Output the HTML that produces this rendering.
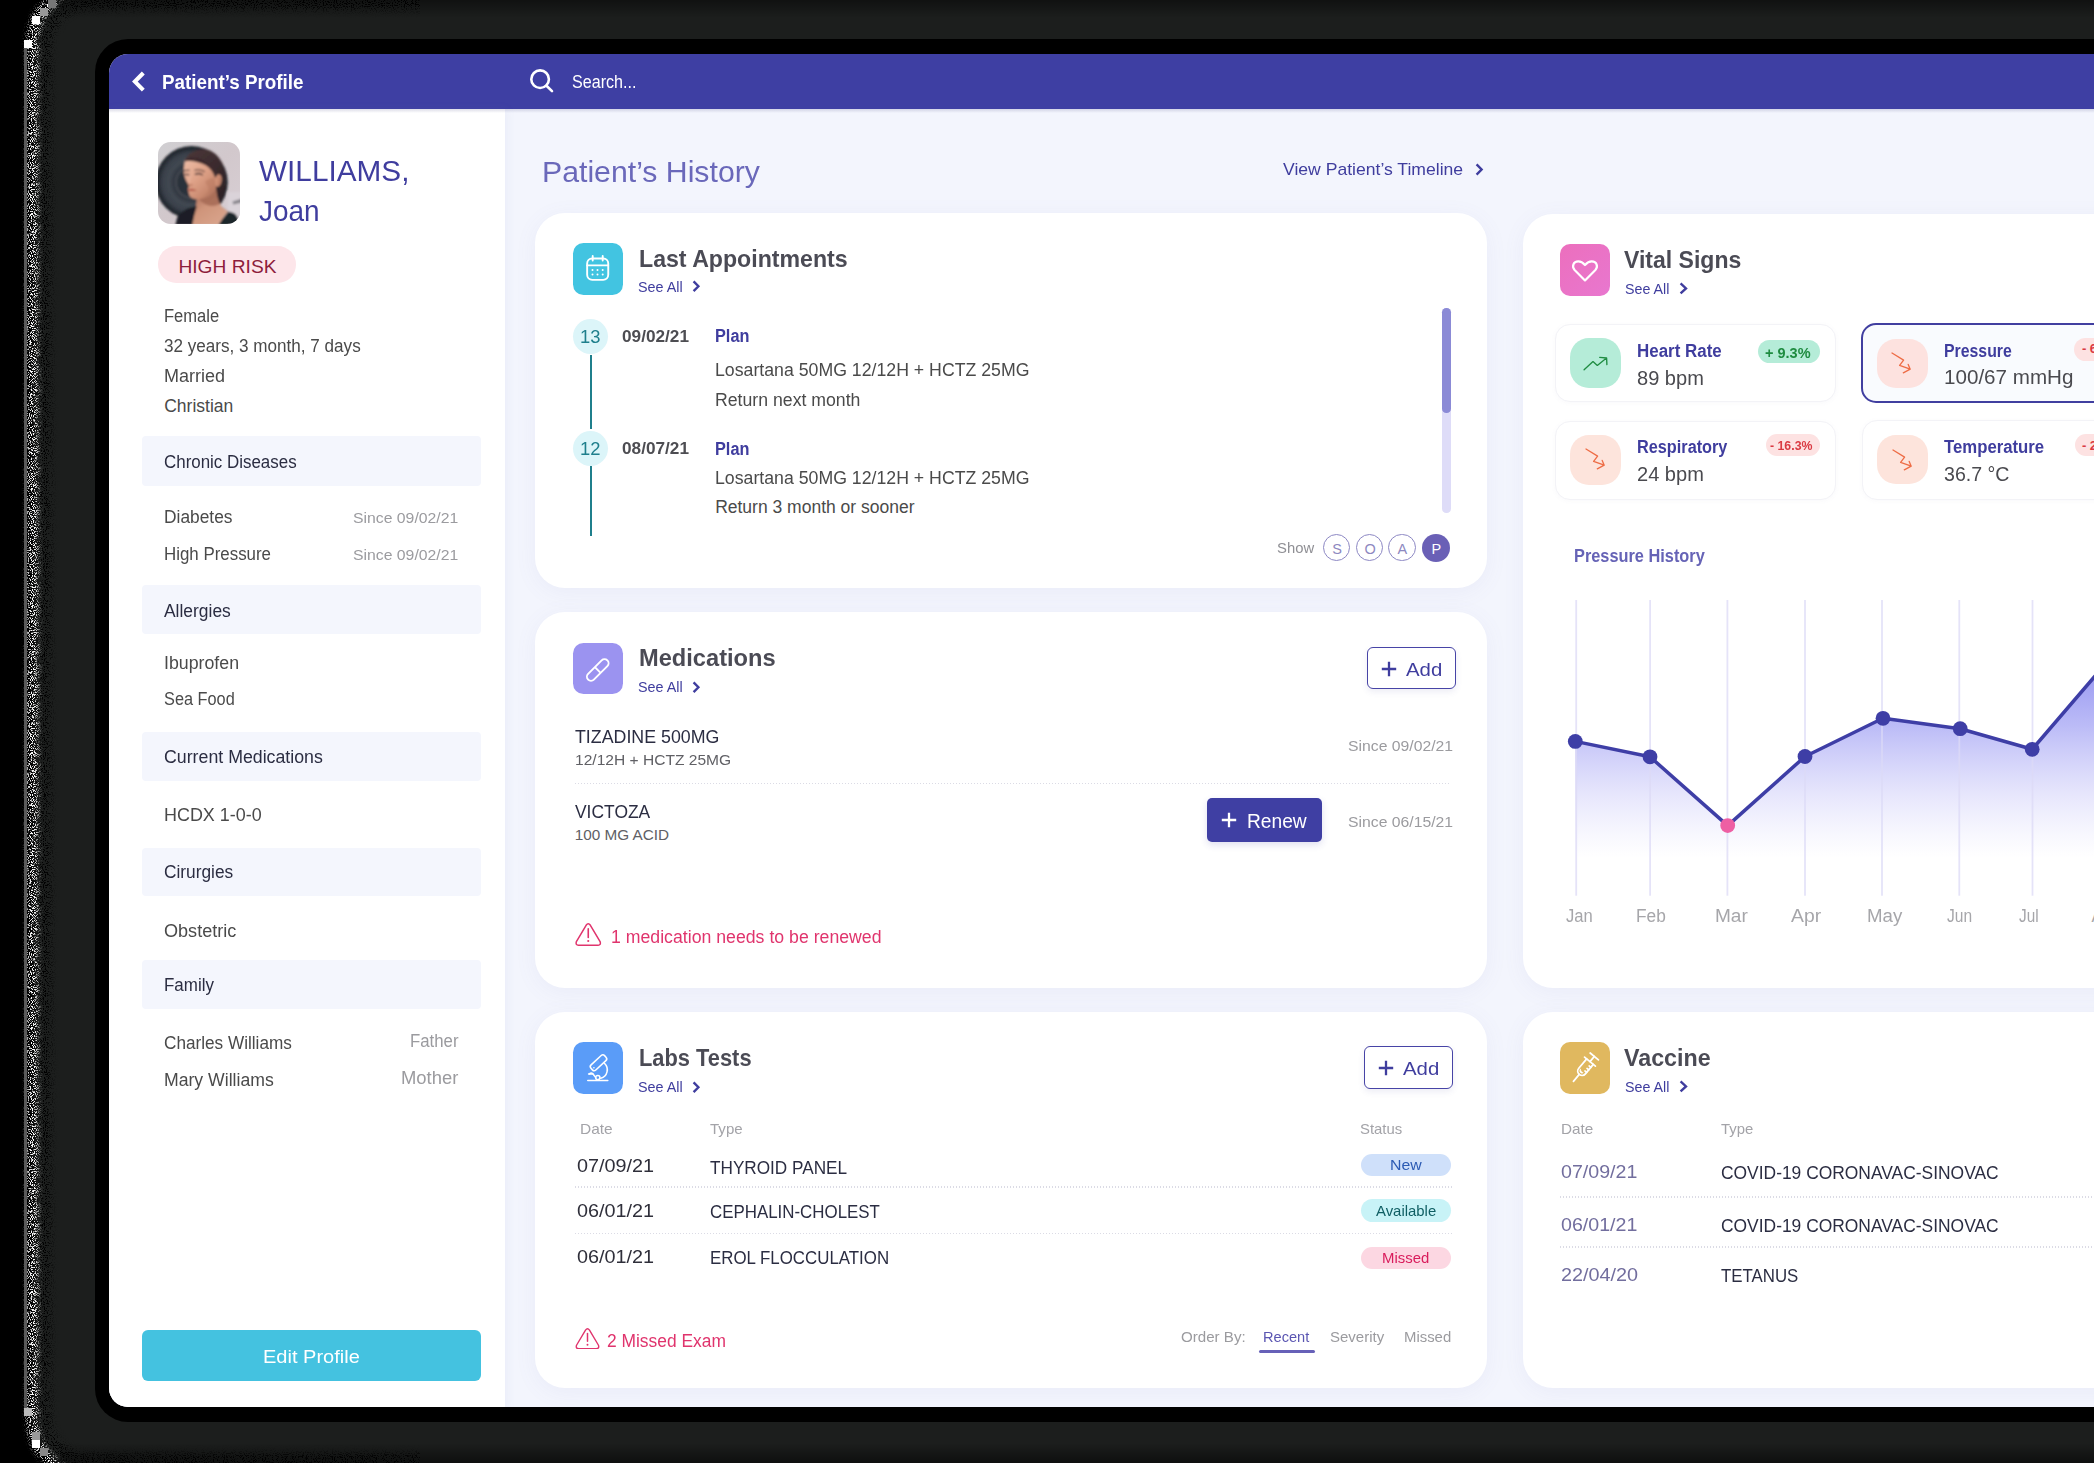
<!DOCTYPE html>
<html><head><meta charset="utf-8"><title>Patient Profile</title>
<style>
html,body{margin:0;padding:0;background:#000;}
body{width:2094px;height:1463px;overflow:hidden;position:relative;font-family:"Liberation Sans",sans-serif;}
.frame{position:absolute;left:34px;top:-8px;width:2300px;height:1479px;border-radius:52px;background:#1c1e1d;filter:blur(2.5px);}
.bezel{position:absolute;left:94.5px;top:39px;width:2200px;height:1383px;border-radius:33px;background:#000;}
.screen{position:absolute;left:109px;top:54px;width:2100px;height:1353px;border-radius:19px;background:#f3f5fd;overflow:hidden;}
.abs{position:absolute;left:-109px;top:-54px;width:2300px;height:1500px;}
.t{position:absolute;white-space:nowrap;line-height:1;transform-origin:0 0;}
.b{position:absolute;}
.card{position:absolute;background:#fff;border-radius:30px;box-shadow:0 4px 22px rgba(110,120,190,0.07);}
</style></head><body>
<div class="frame"></div>
<svg style="position:absolute;left:0;top:0" width="420" height="1463" viewBox="0 0 420 1463">
<defs>
<filter id="nz" x="0" y="0" width="420" height="1463" filterUnits="userSpaceOnUse" color-interpolation-filters="sRGB">
<feTurbulence type="fractalNoise" baseFrequency="0.95" numOctaves="2" seed="7" result="n"/>
<feColorMatrix in="n" type="matrix" values="0 0 0 0 1  0 0 0 0 1  0 0 0 0 1  9 0 0 0 -4.55" result="dots"/>
<feGaussianBlur in="SourceAlpha" stdDeviation="2.6" result="m"/>
<feComposite in="dots" in2="m" operator="in"/>
</filter>
<filter id="nz2" x="0" y="0" width="420" height="1463" filterUnits="userSpaceOnUse" color-interpolation-filters="sRGB">
<feTurbulence type="fractalNoise" baseFrequency="0.9" numOctaves="2" seed="23" result="n"/>
<feColorMatrix in="n" type="matrix" values="0 0 0 0 0  0 0 0 0 0  0 0 0 0 0  9 0 0 0 -4.7" result="dots"/>
<feGaussianBlur in="SourceAlpha" stdDeviation="3" result="m"/>
<feComposite in="dots" in2="m" operator="in"/>
</filter>
</defs>
<rect x="44" y="2" width="2300" height="1459" rx="44" fill="none" stroke="#000" stroke-width="15" filter="url(#nz2)"/>
<rect x="32.5" y="-13" width="2300" height="1489" rx="56" fill="none" stroke="#fff" stroke-width="12" filter="url(#nz)"/>
<g shape-rendering="crispEdges"><rect x="24" y="40" width="8" height="8" fill="#fff"/><rect x="32" y="16" width="8" height="8" fill="#fff"/><rect x="40" y="8" width="8" height="8" fill="#999"/><rect x="48" y="0" width="8" height="8" fill="#777"/><rect x="24" y="48" width="2.6" height="1344" fill="#5a5a5a"/>
<rect x="32" y="1440" width="8" height="8" fill="#fff"/><rect x="24" y="1408" width="8" height="8" fill="#bbb"/><rect x="40" y="1448" width="8" height="8" fill="#888"/><rect x="32" y="1432" width="8" height="8" fill="#999"/><rect x="24" y="1392" width="3" height="16" fill="#555"/></g>
</svg>
<div style="position:absolute;left:60px;top:0;width:2040px;height:18px;background:linear-gradient(rgba(0,0,0,0.42),rgba(0,0,0,0))"></div>
<div style="position:absolute;left:60px;top:1443px;width:2040px;height:20px;background:linear-gradient(rgba(0,0,0,0),rgba(0,0,0,0.5))"></div>
<div class="bezel"></div>
<div class="screen"><div class="abs">
<div class="b" style="left:109px;top:54px;width:2091.00px;height:55.00px;background:#3e3fa3;"></div>
<svg class="b" style="left:129px;top:69px" width="20" height="25" viewBox="0 0 20 25"><path d="M14.3 4 L5.9 12.6 L14.3 21.1" fill="none" stroke="#fff" stroke-width="4.1" stroke-linejoin="miter"/></svg>
<span class="t" style="left:162.40px;top:72.00px;font-size:20.6px;color:#fff;font-weight:700;transform:scaleX(0.9139);">Patient’s Profile</span>
<svg class="b" style="left:527px;top:66px" width="30" height="30" viewBox="0 0 30 30"><circle cx="13.1" cy="13.2" r="8.8" fill="none" stroke="#fff" stroke-width="2.6"/><path d="M19.5 19.7 L25 25.1" stroke="#fff" stroke-width="2.6" stroke-linecap="round"/></svg>
<span class="t" style="left:572.40px;top:74.00px;font-size:17.5px;color:#fff;transform:scaleX(0.9207);">Search...</span>
<div class="b" style="left:109px;top:109px;width:395.50px;height:1301.00px;background:#fff;box-shadow:2px 0 9px rgba(120,130,190,0.07);"></div>
<div class="b" style="left:109px;top:109px;width:2091.00px;height:4.00px;background:linear-gradient(rgba(40,40,110,0.16),rgba(40,40,110,0));"></div>
<svg class="b" style="left:157.9px;top:141.5px;border-radius:12.5px;overflow:hidden" width="82.5" height="82.5" viewBox="0 0 82.5 82.5">
<defs>
<filter id="avb" x="-10%" y="-10%" width="120%" height="120%"><feGaussianBlur stdDeviation="0.95"/></filter>
<radialGradient id="avdisc" cx="33.6" cy="40.3" r="36.2" gradientUnits="userSpaceOnUse"><stop offset="0" stop-color="#2a3038"/><stop offset="0.38" stop-color="#2c323b"/><stop offset="0.44" stop-color="#474d56"/><stop offset="0.47" stop-color="#30363f"/><stop offset="0.62" stop-color="#414852"/><stop offset="0.80" stop-color="#3a414b"/><stop offset="0.92" stop-color="#262b33"/><stop offset="1" stop-color="#1c2127"/></radialGradient>
<linearGradient id="avbg" x1="0" y1="0" x2="1" y2="1"><stop offset="0" stop-color="#d0cfd2"/><stop offset="0.5" stop-color="#d2c8cc"/><stop offset="1" stop-color="#d8cfd5"/></linearGradient>
<linearGradient id="avskin" x1="26" y1="20" x2="58" y2="52" gradientUnits="userSpaceOnUse"><stop offset="0" stop-color="#edbba4"/><stop offset="0.45" stop-color="#dfa288"/><stop offset="0.8" stop-color="#c98a70"/><stop offset="1" stop-color="#a96d57"/></linearGradient>
<linearGradient id="avneck" x1="40" y1="52" x2="62" y2="82" gradientUnits="userSpaceOnUse"><stop offset="0" stop-color="#b27560"/><stop offset="0.4" stop-color="#cf957b"/><stop offset="1" stop-color="#d9a48c"/></linearGradient>
<linearGradient id="avhair" x1="30" y1="10" x2="68" y2="55" gradientUnits="userSpaceOnUse"><stop offset="0" stop-color="#4a3638"/><stop offset="0.5" stop-color="#3a2a2d"/><stop offset="1" stop-color="#2c2226"/></linearGradient>
</defs>
<rect width="82.5" height="82.5" fill="url(#avbg)"/>
<g filter="url(#avb)">
<rect x="70" y="50" width="14" height="34" fill="#dad3d9"/>
<path d="M74.5 59.5 L84 56.5 L84 60.5 L75.2 62.6Z" fill="#88858c"/>
<circle cx="33.6" cy="40.3" r="36.2" fill="url(#avdisc)"/>
<!-- hair back -->
<path d="M28.4 15.6 C31 10.5 37 8 44 7.4 C52 6.8 58.5 11.5 63 19 C67 26 68.6 35 68 43 C67.4 50 65 57 61.9 62.3 L56.5 57 L55 44 L52 28 L40 17 Z" fill="url(#avhair)"/>
<!-- neck & chest -->
<path d="M38.8 52 L58 46 C58.6 54 60.5 60.5 63.5 64.3 C66 66.5 68.5 68 70.4 69.2 L66 75 L60.3 83 L34 83 L36 73.4 C37.6 68 38.6 62 38.8 52Z" fill="url(#avneck)"/>
<path d="M40 56 C46 57.5 53 54.5 58 47 C58.5 53 59.5 58 61.5 62 C55 66 46 64 40 56Z" fill="#a56955" opacity="0.85"/>
<!-- face -->
<path d="M27.1 16.9 C31.5 14.2 41.4 15.6 50.5 20.8 C55 24 58 29 59 35.1 C59.6 40 58.8 44.5 57 48 C54 52.5 48 56.5 41.4 57.2 C38 57.6 35 57 33.6 55.8 C32 54.6 31 53.5 31 52 C30.6 50.5 30.2 49.2 30 47.8 C29.6 46.6 30.6 45.6 31.3 44.6 C30.3 43.6 29.6 42.8 29.9 41.6 C28.6 39.6 27 37 27 35 C26 33 25.6 31.5 25.8 29.9 C26 25 26.3 20.5 27.1 16.9Z" fill="url(#avskin)"/>
<!-- hairline shadow over forehead -->
<path d="M27.3 16.4 C33 13.8 42 15 50.8 20.4 C55.5 23.6 58.6 28.8 59.4 35 L57 35.6 C55.4 30 52 25.6 47.6 23.2 C41 19.6 33 18 27 19.4Z" fill="#3d2c2f"/>
<!-- ear -->
<ellipse cx="60.2" cy="38.6" rx="3.3" ry="6.3" fill="#cf9076" transform="rotate(10 60.2 38.6)"/>
<path d="M60.8 35 C62 37 61.6 41 60 43" stroke="#a8664f" stroke-width="0.9" fill="none"/>
<!-- brows -->
<path d="M26.4 28.6 L31.2 28.2 M36.8 28.2 C40 27.4 43.6 28 46.4 29.6" stroke="#4a3430" stroke-width="1.1" stroke-linecap="round" fill="none"/>
<!-- eyes -->
<path d="M26.8 32.4 L30.8 32.6 M37.4 32.2 C39.6 31.2 42.6 31.6 44.4 32.8" stroke="#33242a" stroke-width="1.3" stroke-linecap="round" fill="none"/>
<!-- nose shadow -->
<path d="M30.6 42.4 C31.6 43.4 33 43.4 34.2 42.8" stroke="#b06c55" stroke-width="1.1" stroke-linecap="round" fill="none"/>
<path d="M32.5 33 C31.5 36 31 39 30.6 41" stroke="#e9b7a0" stroke-width="1.4" stroke-linecap="round" fill="none" opacity="0.8"/>
<!-- lips -->
<path d="M30 47.2 C32.4 46.2 35.6 46.6 38.8 48.2 C36 49.4 32.4 49.2 30.2 48.4Z" fill="#b35a4c"/>
<!-- cheek shade -->
<path d="M47 40 C50 44 52 48 50 52 C53 50 56 47 57 44 C57.6 41 57 38 56 36 C53 36 49 37 47 40Z" fill="#b97a62" opacity="0.55"/>
<!-- clothes -->
<path d="M17.4 83 L19.4 74.7 C22 71.6 25 69 28.4 66.9 C32 65.6 35.6 64.8 38.8 64.3 L36.2 73.4 L34.3 83Z" fill="#1b1f25"/>
<path d="M60.3 83 L65.5 75.3 L70 69.5 C72.4 69.8 74.6 70.4 76.5 71.4 C78.4 73 79.6 75 80.4 77.3 L81.2 83Z" fill="#1f262c"/>
<path d="M63.5 64.5 L70.2 69.4 L65 76" stroke="#b9b3b8" stroke-width="0.7" fill="none" opacity="0.8"/>
</g>
</svg>

<span class="t" style="left:259.40px;top:157.00px;font-size:28.6px;color:#3f3d9e;transform:scaleX(1.0403);">WILLIAMS,</span>
<span class="t" style="left:259.40px;top:197.00px;font-size:28.6px;color:#3f3d9e;transform:scaleX(0.9779);">Joan</span>
<div class="b" style="left:158px;top:246px;width:138.00px;height:36.50px;background:#fde6ea;border-radius:18.25px;"></div>
<span class="t" style="left:178.40px;top:257.00px;font-size:19.2px;color:#8e1d3c;">HIGH RISK</span>
<span class="t" style="left:164.20px;top:308.00px;font-size:17.5px;color:#4a4a4a;transform:scaleX(0.9456);">Female</span>
<span class="t" style="left:164.20px;top:338.00px;font-size:17.5px;color:#4a4a4a;transform:scaleX(0.9768);">32 years, 3 month, 7 days</span>
<span class="t" style="left:164.20px;top:368.00px;font-size:17.5px;color:#4a4a4a;transform:scaleX(1.0291);">Married</span>
<span class="t" style="left:164.20px;top:398.00px;font-size:17.5px;color:#4a4a4a;">Christian</span>
<div class="b" style="left:142px;top:436px;width:339.00px;height:49.70px;background:#f4f6fd;border-radius:4px;"></div>
<span class="t" style="left:164.20px;top:454.00px;font-size:17.5px;color:#2b2d42;transform:scaleX(0.9670);">Chronic Diseases</span>
<span class="t" style="left:164.20px;top:509.00px;font-size:17.5px;color:#4a4a4a;transform:scaleX(0.9910);">Diabetes</span>
<span class="t" style="left:353.20px;top:510.00px;font-size:15px;color:#9b9b9f;transform:scaleX(1.0517);">Since 09/02/21</span>
<span class="t" style="left:164.20px;top:546.00px;font-size:17.5px;color:#4a4a4a;transform:scaleX(0.9651);">High Pressure</span>
<span class="t" style="left:353.20px;top:547.00px;font-size:15px;color:#9b9b9f;transform:scaleX(1.0517);">Since 09/02/21</span>
<div class="b" style="left:142px;top:585.3px;width:339.00px;height:48.60px;background:#f4f6fd;border-radius:4px;"></div>
<span class="t" style="left:164.20px;top:603.00px;font-size:17.5px;color:#2b2d42;transform:scaleX(0.9952);">Allergies</span>
<span class="t" style="left:164.20px;top:655.00px;font-size:17.5px;color:#4a4a4a;transform:scaleX(1.0149);">Ibuprofen</span>
<span class="t" style="left:164.20px;top:691.00px;font-size:17.5px;color:#4a4a4a;transform:scaleX(0.9318);">Sea Food</span>
<div class="b" style="left:142px;top:732.3px;width:339.00px;height:48.80px;background:#f4f6fd;border-radius:4px;"></div>
<span class="t" style="left:164.20px;top:749.00px;font-size:17.5px;color:#2b2d42;transform:scaleX(1.0145);">Current Medications</span>
<span class="t" style="left:164.20px;top:807.00px;font-size:17.5px;color:#4a4a4a;transform:scaleX(1.0247);">HCDX 1-0-0</span>
<div class="b" style="left:142px;top:847.5px;width:339.00px;height:48.80px;background:#f4f6fd;border-radius:4px;"></div>
<span class="t" style="left:164.20px;top:864.00px;font-size:17.5px;color:#2b2d42;transform:scaleX(0.9886);">Cirurgies</span>
<span class="t" style="left:164.20px;top:923.00px;font-size:17.5px;color:#4a4a4a;transform:scaleX(1.0329);">Obstetric</span>
<div class="b" style="left:142px;top:960.2px;width:339.00px;height:49.20px;background:#f4f6fd;border-radius:4px;"></div>
<span class="t" style="left:164.20px;top:977.00px;font-size:17.5px;color:#2b2d42;transform:scaleX(0.9689);">Family</span>
<span class="t" style="left:164.20px;top:1035.00px;font-size:17.5px;color:#4a4a4a;transform:scaleX(0.9812);">Charles Williams</span>
<span class="t" style="left:410.10px;top:1033.00px;font-size:17.5px;color:#9b9b9f;transform:scaleX(0.9600);">Father</span>
<span class="t" style="left:164.20px;top:1072.00px;font-size:17.5px;color:#4a4a4a;transform:scaleX(1.0076);">Mary Williams</span>
<span class="t" style="left:401.30px;top:1070.00px;font-size:17.5px;color:#9b9b9f;transform:scaleX(1.0532);">Mother</span>
<div class="b" style="left:141.5px;top:1330px;width:339.00px;height:50.50px;background:#44c2e0;border-radius:6px;"></div>
<span class="t" style="left:263.40px;top:1347.00px;font-size:19.2px;color:#fff;transform:scaleX(1.0438);">Edit Profile</span>
<span class="t" style="left:541.90px;top:157.00px;font-size:29.7px;color:#6a68ba;transform:scaleX(1.0184);">Patient’s History</span>
<span class="t" style="left:1283.40px;top:161.00px;font-size:17px;color:#3f3d9e;transform:scaleX(1.0341);">View Patient’s Timeline</span>
<svg class="b" style="left:1473.5px;top:161.8px" width="10.4" height="15" viewBox="-2 -2 10.4 15"><path d="M0.6 0.4 L5.6000000000000005 5.5 L0.6 10.6" fill="none" stroke="#3f3d9e" stroke-width="2.4"/></svg>
<div class="card" style="left:535px;top:212.5px;width:952px;height:375.5px"></div>
<div class="b" style="left:572.9px;top:243px;width:50px;height:51.5px;border-radius:10.5px;background:#42c4e1"></div>
<svg class="b" style="left:572.9px;top:243px" width="50" height="52" viewBox="0 0 50 52"><g fill="none" stroke="#fff" stroke-width="1.9" stroke-linecap="round"><rect x="14.15" y="15.55" width="21.1" height="21.3" rx="5"/><path d="M14.2 22.4H35.2M19.7 12.9V17.6M29.7 12.9V17.6"/></g><g fill="#fff"><circle cx="19.5" cy="27" r="1"/><circle cx="24.5" cy="27" r="1"/><circle cx="29.7" cy="27" r="1"/><circle cx="19.5" cy="31.5" r="1"/><circle cx="24.5" cy="31.5" r="1"/><circle cx="29.7" cy="31.5" r="1"/></g></svg>
<span class="t" style="left:638.90px;top:247.00px;font-size:24.5px;color:#4b4b55;font-weight:700;transform:scaleX(0.9443);">Last Appointments</span>
<span class="t" style="left:637.80px;top:279.00px;font-size:15.5px;color:#3f3d9e;transform:scaleX(0.9264);">See All</span>
<svg class="b" style="left:690.9px;top:279.0px" width="10.2" height="14.5" viewBox="-2 -2 10.2 14.5"><path d="M0.6 0.4 L5.4 5.25 L0.6 10.1" fill="none" stroke="#3f3d9e" stroke-width="2.4"/></svg>
<div class="b" style="left:589.5px;top:354.5px;width:2.00px;height:74.50px;background:#1f7f8c;"></div>
<div class="b" style="left:589.5px;top:466px;width:2.00px;height:70.00px;background:#1f7f8c;"></div>
<div class="b" style="left:573px;top:319.25px;width:35px;height:35px;border-radius:50%;background:#dcf5f9"></div>
<div class="b" style="left:573px;top:430.75px;width:35px;height:35px;border-radius:50%;background:#dcf5f9"></div>
<span class="t" style="left:580.15px;top:328.00px;font-size:18px;color:#1f7f8c;transform:scaleX(1.0225);">13</span>
<span class="t" style="left:580.15px;top:440.00px;font-size:18px;color:#1f7f8c;transform:scaleX(1.0225);">12</span>
<span class="t" style="left:621.90px;top:329.00px;font-size:15.7px;color:#4d4d52;font-weight:700;transform:scaleX(1.0965);">09/02/21</span>
<span class="t" style="left:621.90px;top:441.00px;font-size:15.7px;color:#4d4d52;font-weight:700;transform:scaleX(1.0965);">08/07/21</span>
<span class="t" style="left:715.15px;top:328.00px;font-size:17.5px;color:#3f3d9e;font-weight:700;transform:scaleX(0.9311);">Plan</span>
<span class="t" style="left:715.15px;top:441.00px;font-size:17.5px;color:#3f3d9e;font-weight:700;transform:scaleX(0.9311);">Plan</span>
<span class="t" style="left:715.15px;top:362.00px;font-size:17.5px;color:#4a4a4a;transform:scaleX(1.0119);">Losartana 50MG 12/12H + HCTZ 25MG</span>
<span class="t" style="left:715.15px;top:392.00px;font-size:17.5px;color:#4a4a4a;transform:scaleX(1.0101);">Return next month</span>
<span class="t" style="left:715.15px;top:470.00px;font-size:17.5px;color:#4a4a4a;transform:scaleX(1.0119);">Losartana 50MG 12/12H + HCTZ 25MG</span>
<span class="t" style="left:715.15px;top:499.00px;font-size:17.5px;color:#4a4a4a;">Return 3 month or sooner</span>
<div class="b" style="left:1442px;top:308px;width:8.70px;height:205.00px;background:#dedcf8;border-radius:4.3px;"></div>
<div class="b" style="left:1442px;top:308px;width:8.70px;height:104.70px;background:#8b8ad6;border-radius:4.3px;"></div>
<span class="t" style="left:1277.40px;top:540.00px;font-size:15px;color:#8f8f94;transform:scaleX(0.9887);">Show</span>
<div class="b" style="left:1323px;top:534px;width:25.4px;height:25.4px;border-radius:50%;border:1.4px solid #8d88c4"></div>
<span class="t" style="left:1332.19px;top:542.00px;font-size:14.5px;color:#8d88bf;">S</span>
<div class="b" style="left:1356px;top:534px;width:25.4px;height:25.4px;border-radius:50%;border:1.4px solid #8d88c4"></div>
<span class="t" style="left:1364.38px;top:542.00px;font-size:14.5px;color:#8d88bf;">O</span>
<div class="b" style="left:1388.3px;top:534px;width:25.4px;height:25.4px;border-radius:50%;border:1.4px solid #8d88c4"></div>
<span class="t" style="left:1397.42px;top:542.00px;font-size:14.5px;color:#8d88bf;">A</span>
<div class="b" style="left:1422.3px;top:534px;width:28px;height:28px;border-radius:50%;background:#6a60b6"></div>
<span class="t" style="left:1431.49px;top:542.00px;font-size:14.5px;color:#fff;">P</span>
<div class="card" style="left:535px;top:612.3px;width:952px;height:375.30000000000007px"></div>
<div class="b" style="left:572.9px;top:642.9px;width:50px;height:51px;border-radius:10.5px;background:#9b93f0"></div>
<svg class="b" style="left:572.9px;top:642.9px" width="50" height="52" viewBox="0 0 50 52"><g transform="rotate(-45 24.75 27)" fill="none" stroke="#fff" stroke-width="1.9"><rect x="11.15" y="22.95" width="27.2" height="8.1" rx="4.05"/><path d="M24.75 22.95V31.05"/></g></svg>
<span class="t" style="left:639.10px;top:646.00px;font-size:24.5px;color:#4b4b55;font-weight:700;transform:scaleX(0.9652);">Medications</span>
<span class="t" style="left:637.80px;top:679.00px;font-size:15.5px;color:#3f3d9e;transform:scaleX(0.9264);">See All</span>
<svg class="b" style="left:690.9px;top:679.6999999999999px" width="10.2" height="14.5" viewBox="-2 -2 10.2 14.5"><path d="M0.6 0.4 L5.4 5.25 L0.6 10.1" fill="none" stroke="#3f3d9e" stroke-width="2.4"/></svg>
<div class="b" style="left:1367px;top:646.5px;width:87.3999999999999px;height:40.899999999999956px;border:1.75px solid #4744a6;border-radius:6px;background:#fff;box-shadow:0 3px 6px rgba(80,80,160,0.10)"></div>
<svg class="b" style="left:1381.2px;top:660.6999999999999px" width="16" height="16" viewBox="0 0 16 16"><path d="M8 0.8V15.2M0.8 8H15.2" stroke="#3f3d9e" stroke-width="2.3"/></svg>
<span class="t" style="left:1406.40px;top:660.00px;font-size:19px;color:#3f3d9e;transform:scaleX(1.0726);">Add</span>
<span class="t" style="left:574.80px;top:729.00px;font-size:17.5px;color:#2b2d42;transform:scaleX(1.0169);">TIZADINE 500MG</span>
<span class="t" style="left:574.80px;top:752.00px;font-size:15.3px;color:#606065;transform:scaleX(1.0176);">12/12H + HCTZ 25MG</span>
<span class="t" style="left:1347.70px;top:738.00px;font-size:15px;color:#9b9b9f;transform:scaleX(1.0497);">Since 09/02/21</span>
<div class="b" style="left:575px;top:782.55px;width:875px;height:1.7px;background:repeating-linear-gradient(90deg,#dbdbe5 0,#dbdbe5 1.5px,transparent 1.5px,transparent 3px)"></div>
<span class="t" style="left:574.80px;top:804.00px;font-size:17.5px;color:#2b2d42;transform:scaleX(0.9957);">VICTOZA</span>
<span class="t" style="left:574.80px;top:827.00px;font-size:15.3px;color:#606065;">100 MG ACID</span>
<div class="b" style="left:1206.6px;top:798px;width:115.9px;height:43.7px;border-radius:5px;background:#3f3fa3;box-shadow:0 3px 7px rgba(63,63,163,0.16)"></div>
<svg class="b" style="left:1220.8px;top:812.3px" width="16" height="16" viewBox="0 0 16 16"><path d="M8 0.8V15.2M0.8 8H15.2" stroke="#fff" stroke-width="2.3"/></svg>
<span class="t" style="left:1246.60px;top:812.00px;font-size:19.5px;color:#fff;transform:scaleX(0.9840);">Renew</span>
<span class="t" style="left:1347.70px;top:814.00px;font-size:15px;color:#9b9b9f;transform:scaleX(1.0497);">Since 06/15/21</span>
<svg class="b" style="left:575px;top:922.6px" width="26.5" height="23.2" viewBox="0 0 26.5 23.2"><path d="M11.1 2.3 Q13.25 -0.6 15.4 2.3 L25.1 18.6 Q26.3 22.2 22.6 22.3 L3.9 22.3 Q0.2 22.2 1.4 18.6 Z" fill="none" stroke="#e0346d" stroke-width="1.5" stroke-linejoin="round"/><path d="M13.25 5.9 V14.4" stroke="#e0346d" stroke-width="1.6" stroke-linecap="round"/><circle cx="13.25" cy="18" r="1.05" fill="#e0346d"/></svg>
<span class="t" style="left:611.40px;top:929.00px;font-size:17.5px;color:#e0346d;transform:scaleX(1.0112);">1 medication needs to be renewed</span>
<div class="card" style="left:535px;top:1011.8px;width:952px;height:376.20000000000005px"></div>
<div class="b" style="left:572.9px;top:1042.2px;width:50px;height:51.7px;border-radius:10.5px;background:#5a9cf8"></div>
<svg class="b" style="left:572.9px;top:1042.2px" width="50" height="52" viewBox="0 0 50 52"><g fill="none" stroke="#fff" stroke-width="1.55" stroke-linecap="round" stroke-linejoin="round"><rect x="16.2" y="17.3" width="18.6" height="6.9" rx="2.4" transform="rotate(-43 25.5 20.75)"/><path d="M31.4 21.2 C36.5 26 34.5 34.5 27.8 36.2"/><path d="M15.6 32 L20 32 L22.6 35.4"/><path d="M16.4 32 C17.6 30.6 19.4 30.8 20 32" /><circle cx="24.8" cy="35.6" r="2.1"/><path d="M14.8 38.4 H34.8"/></g><circle cx="20.9" cy="25.7" r="0.8" fill="#fff"/></svg>
<span class="t" style="left:638.90px;top:1046.00px;font-size:24.5px;color:#4b4b55;font-weight:700;transform:scaleX(0.8920);">Labs Tests</span>
<span class="t" style="left:637.80px;top:1079.00px;font-size:15.5px;color:#3f3d9e;transform:scaleX(0.9264);">See All</span>
<svg class="b" style="left:690.9px;top:1079.7px" width="10.2" height="14.5" viewBox="-2 -2 10.2 14.5"><path d="M0.6 0.4 L5.4 5.25 L0.6 10.1" fill="none" stroke="#3f3d9e" stroke-width="2.4"/></svg>
<div class="b" style="left:1363.8px;top:1046px;width:87.3px;height:40.6px;border:1.75px solid #4744a6;border-radius:6px;background:#fff;box-shadow:0 3px 6px rgba(80,80,160,0.10)"></div>
<svg class="b" style="left:1378.0px;top:1060.05px" width="16" height="16" viewBox="0 0 16 16"><path d="M8 0.8V15.2M0.8 8H15.2" stroke="#3f3d9e" stroke-width="2.3"/></svg>
<span class="t" style="left:1403.20px;top:1059.00px;font-size:19px;color:#3f3d9e;transform:scaleX(1.0726);">Add</span>
<span class="t" style="left:579.80px;top:1121.00px;font-size:15px;color:#a3a3a8;transform:scaleX(1.0308);">Date</span>
<span class="t" style="left:710.20px;top:1121.00px;font-size:15px;color:#a3a3a8;transform:scaleX(1.0031);">Type</span>
<span class="t" style="left:1359.90px;top:1121.00px;font-size:15px;color:#a3a3a8;transform:scaleX(0.9929);">Status</span>
<span class="t" style="left:577.00px;top:1157.00px;font-size:18px;color:#2f2f3a;transform:scaleX(1.1009);">07/09/21</span>
<span class="t" style="left:710.20px;top:1160.00px;font-size:17.5px;color:#2b2d42;transform:scaleX(0.9810);">THYROID PANEL</span>
<div class="b" style="left:575px;top:1186.15px;width:877px;height:1.7px;background:repeating-linear-gradient(90deg,#dbdbe5 0,#dbdbe5 1.5px,transparent 1.5px,transparent 3px)"></div>
<span class="t" style="left:577.00px;top:1202.00px;font-size:18px;color:#2f2f3a;transform:scaleX(1.1009);">06/01/21</span>
<span class="t" style="left:710.20px;top:1204.00px;font-size:17.5px;color:#2b2d42;transform:scaleX(0.9653);">CEPHALIN-CHOLEST</span>
<div class="b" style="left:575px;top:1232.65px;width:877px;height:1.7px;background:repeating-linear-gradient(90deg,#dbdbe5 0,#dbdbe5 1.5px,transparent 1.5px,transparent 3px)"></div>
<span class="t" style="left:577.00px;top:1248.00px;font-size:18px;color:#2f2f3a;transform:scaleX(1.1009);">06/01/21</span>
<span class="t" style="left:710.20px;top:1250.00px;font-size:17.5px;color:#2b2d42;transform:scaleX(0.9642);">EROL FLOCCULATION</span>
<div class="b" style="left:1360.5px;top:1154px;width:90.20px;height:22.00px;background:#cfe0fa;border-radius:11.0px;"></div>
<span class="t" style="left:1389.75px;top:1157.00px;font-size:15px;color:#2c5bb4;transform:scaleX(1.0567);">New</span>
<div class="b" style="left:1360.5px;top:1199px;width:90.20px;height:23.40px;background:#c8f3f7;border-radius:11.700000000000045px;"></div>
<span class="t" style="left:1375.50px;top:1203.00px;font-size:15px;color:#0f5e63;transform:scaleX(0.9930);">Available</span>
<div class="b" style="left:1360.5px;top:1246.5px;width:90.20px;height:22.50px;background:#fcd7e2;border-radius:11.25px;"></div>
<span class="t" style="left:1382.00px;top:1250.00px;font-size:15px;color:#d91c5c;transform:scaleX(0.9937);">Missed</span>
<svg class="b" style="left:574.8px;top:1327.9px" width="25" height="21.5" viewBox="0 0 26.5 23.2"><path d="M11.1 2.3 Q13.25 -0.6 15.4 2.3 L25.1 18.6 Q26.3 22.2 22.6 22.3 L3.9 22.3 Q0.2 22.2 1.4 18.6 Z" fill="none" stroke="#e0346d" stroke-width="1.5" stroke-linejoin="round"/><path d="M13.25 5.9 V14.4" stroke="#e0346d" stroke-width="1.6" stroke-linecap="round"/><circle cx="13.25" cy="18" r="1.05" fill="#e0346d"/></svg>
<span class="t" style="left:607.00px;top:1333.00px;font-size:17.5px;color:#e0346d;transform:scaleX(0.9939);">2 Missed Exam</span>
<span class="t" style="left:1180.80px;top:1329.00px;font-size:15.5px;color:#9b9b9f;transform:scaleX(0.9748);">Order By:</span>
<span class="t" style="left:1262.90px;top:1329.00px;font-size:15.5px;color:#5b56b2;transform:scaleX(0.9425);">Recent</span>
<span class="t" style="left:1330.40px;top:1329.00px;font-size:15.5px;color:#9b9b9f;transform:scaleX(0.9679);">Severity</span>
<span class="t" style="left:1404.40px;top:1329.00px;font-size:15.5px;color:#9b9b9f;transform:scaleX(0.9608);">Missed</span>
<div class="b" style="left:1259.3px;top:1349.5px;width:56.10px;height:3.20px;background:#6761b8;border-radius:1.6px;"></div>
<div class="card" style="left:1522.5px;top:214px;width:677.5px;height:774px"></div>
<div class="b" style="left:1560px;top:244.2px;width:49.8px;height:51.7px;border-radius:10px;background:linear-gradient(135deg,#ec6fbd,#e877cf)"></div>
<svg class="b" style="left:1570px;top:257px" width="30" height="28" viewBox="0 0 30 28"><path d="M15 23.4 L4.6 12.9 C1.6 9.6 3.2 4.4 8.3 4.4 C11.6 4.4 13.6 6.4 15 8 C16.4 6.4 18.4 4.4 21.7 4.4 C26.8 4.4 28.4 9.6 25.4 12.9 Z" fill="none" stroke="#fff" stroke-width="2.2" stroke-linejoin="round"/></svg>
<span class="t" style="left:1624.40px;top:248.00px;font-size:24.5px;color:#4b4b55;font-weight:700;transform:scaleX(0.9395);">Vital Signs</span>
<span class="t" style="left:1625.00px;top:281.00px;font-size:15.5px;color:#3f3d9e;transform:scaleX(0.9202);">See All</span>
<svg class="b" style="left:1678px;top:281px" width="10.8" height="14.9" viewBox="-2 -2 10.8 14.9"><path d="M0.6 0.4 L6.0 5.45 L0.6 10.5" fill="none" stroke="#3f3d9e" stroke-width="2.4"/></svg>
<div class="b" style="left:1555.4px;top:324.3px;width:279.0999999999999px;height:76.09999999999997px;border:1px solid #f3f3f7;border-radius:15px;background:#fff;box-shadow:0 1px 5px rgba(120,120,170,0.045)"></div>
<div class="b" style="left:1570px;top:338.2px;width:51px;height:49.6px;border-radius:19px;background:#b5ecd8"></div>
<svg class="b" style="left:1583px;top:355px" width="30" height="20" viewBox="0 0 30 20"><path d="M1.1 14.7 L10 6.6 L14.3 10.4 L23.2 3.2 M16.7 2.4 L23.6 3 L23.9 9.6" fill="none" stroke="#1f8c41" stroke-width="1.35" stroke-linecap="round" stroke-linejoin="round"/></svg>
<span class="t" style="left:1637.10px;top:343.00px;font-size:17.5px;color:#3f3d9e;font-weight:700;transform:scaleX(0.9680);">Heart Rate</span>
<span class="t" style="left:1637.10px;top:369.00px;font-size:19.5px;color:#4a4a4f;transform:scaleX(1.0277);">89 bpm</span>
<div class="b" style="left:1758px;top:340px;width:62.00px;height:23.40px;background:#b5ecd8;border-radius:11.7px;"></div>
<span class="t" style="left:1765.30px;top:346.00px;font-size:14px;color:#1f8c41;font-weight:700;transform:scaleX(1.0364);">+ 9.3%</span>
<div class="b" style="left:1861.3px;top:323.3px;width:334.70000000000005px;height:75.69999999999999px;border:2px solid #413fa0;border-radius:15px;background:#f9fbfe"></div>
<div class="b" style="left:1877px;top:338.7px;width:50.7px;height:49.3px;border-radius:19px;background:#fde2df"></div>
<svg class="b" style="left:1890.4px;top:351.2px" width="26" height="26" viewBox="-2 -2 26 26"><path d="M0 0 L11.6 7.1 L7.6 12.4 L18.2 16.2 M11.3 19.8 L18.2 16.2 L16.2 11.4" fill="none" stroke="#ee6c45" stroke-width="1.3" stroke-linecap="round" stroke-linejoin="round"/></svg>
<span class="t" style="left:1943.60px;top:343.00px;font-size:17.5px;color:#3f3d9e;font-weight:700;transform:scaleX(0.9055);">Pressure</span>
<span class="t" style="left:1944.30px;top:368.00px;font-size:19.5px;color:#4a4a4f;transform:scaleX(1.0571);">100/67 mmHg</span>
<div class="b" style="left:2074.1px;top:337.7px;width:65.90px;height:22.90px;background:#fde2e2;border-radius:11.4px;"></div>
<span class="t" style="left:2081.90px;top:342.00px;font-size:13px;color:#da3a42;font-weight:700;">- 6.1%</span>
<div class="b" style="left:1555.4px;top:421px;width:279.0999999999999px;height:76.5px;border:1px solid #f3f3f7;border-radius:15px;background:#fff;box-shadow:0 1px 5px rgba(120,120,170,0.045)"></div>
<div class="b" style="left:1570px;top:435.3px;width:51px;height:49.6px;border-radius:19px;background:#fde4dc"></div>
<svg class="b" style="left:1584.1px;top:447.4px" width="26" height="26" viewBox="-2 -2 26 26"><path d="M0 0 L11.6 7.1 L7.6 12.4 L18.2 16.2 M11.3 19.8 L18.2 16.2 L16.2 11.4" fill="none" stroke="#ee6c45" stroke-width="1.3" stroke-linecap="round" stroke-linejoin="round"/></svg>
<span class="t" style="left:1637.10px;top:439.00px;font-size:17.5px;color:#3f3d9e;font-weight:700;transform:scaleX(0.9296);">Respiratory</span>
<span class="t" style="left:1637.10px;top:465.00px;font-size:19.5px;color:#4a4a4f;transform:scaleX(1.0277);">24 bpm</span>
<div class="b" style="left:1765.6px;top:434.2px;width:54.70px;height:22.30px;background:#fde2e2;border-radius:11.2px;"></div>
<span class="t" style="left:1770.40px;top:439.00px;font-size:13px;color:#da3a42;font-weight:700;transform:scaleX(0.9475);">- 16.3%</span>
<div class="b" style="left:1862.3px;top:420.3px;width:335.70000000000005px;height:77.30000000000001px;border:1px solid #f3f3f7;border-radius:15px;background:#fff;box-shadow:0 1px 5px rgba(120,120,170,0.045)"></div>
<div class="b" style="left:1877px;top:435.3px;width:50.7px;height:49.2px;border-radius:19px;background:#fde4dc"></div>
<svg class="b" style="left:1890.7px;top:447.6px" width="26" height="26" viewBox="-2 -2 26 26"><path d="M0 0 L11.6 7.1 L7.6 12.4 L18.2 16.2 M11.3 19.8 L18.2 16.2 L16.2 11.4" fill="none" stroke="#ee6c45" stroke-width="1.3" stroke-linecap="round" stroke-linejoin="round"/></svg>
<span class="t" style="left:1943.60px;top:439.00px;font-size:17.5px;color:#3f3d9e;font-weight:700;transform:scaleX(0.9566);">Temperature</span>
<span class="t" style="left:1944.30px;top:465.00px;font-size:19.5px;color:#4a4a4f;transform:scaleX(1.0038);">36.7 °C</span>
<div class="b" style="left:2075px;top:434px;width:65.00px;height:22.00px;background:#fde2e2;border-radius:11px;"></div>
<span class="t" style="left:2081.90px;top:439.00px;font-size:13px;color:#da3a42;font-weight:700;">- 2.4%</span>
<span class="t" style="left:1574.40px;top:548.00px;font-size:17.5px;color:#6663b6;font-weight:700;transform:scaleX(0.9335);">Pressure History</span>
<svg class="b" style="left:1540px;top:590px" width="600" height="320" viewBox="1540 590 600 320"><defs><linearGradient id="ag" x1="0" y1="661" x2="0" y2="858" gradientUnits="userSpaceOnUse"><stop offset="0" stop-color="#7878ec" stop-opacity="0.80"/><stop offset="0.33" stop-color="#8282f0" stop-opacity="0.54"/><stop offset="0.66" stop-color="#9a98f3" stop-opacity="0.26"/><stop offset="1" stop-color="#b5b3f6" stop-opacity="0"/></linearGradient></defs><path d="M1575.3 741.4 L1650 756.8 L1727.7 825.6 L1805 756.5 L1883 718.3 L1960.2 728.7 L2032.2 749.3 L2108 661 L2108 895 L1575.3 895 Z" fill="url(#ag)"/><rect x="1575.3" y="600" width="1.8" height="295.7" fill="#dcdaf6" fill-opacity="0.75"/><rect x="1649.1999999999998" y="600" width="1.8" height="295.7" fill="#dcdaf6" fill-opacity="0.75"/><rect x="1726.5" y="600" width="1.8" height="295.7" fill="#dcdaf6" fill-opacity="0.75"/><rect x="1804.1" y="600" width="1.8" height="295.7" fill="#dcdaf6" fill-opacity="0.75"/><rect x="1881.1" y="600" width="1.8" height="295.7" fill="#dcdaf6" fill-opacity="0.75"/><rect x="1958.3999999999999" y="600" width="1.8" height="295.7" fill="#dcdaf6" fill-opacity="0.75"/><rect x="2031.6" y="600" width="1.8" height="295.7" fill="#dcdaf6" fill-opacity="0.75"/><path d="M1575.3 741.4 L1650 756.8 L1727.7 825.6 L1805 756.5 L1883 718.3 L1960.2 728.7 L2032.2 749.3 L2108 661" fill="none" stroke="#3e3ea6" stroke-width="3.5" stroke-linejoin="round"/><circle cx="1575.3" cy="741.4" r="7.4" fill="#3e3ea6"/><circle cx="1650" cy="756.8" r="7.4" fill="#3e3ea6"/><circle cx="1727.7" cy="825.6" r="7.4" fill="#ee5fa3"/><circle cx="1805" cy="756.5" r="7.4" fill="#3e3ea6"/><circle cx="1883" cy="718.3" r="7.4" fill="#3e3ea6"/><circle cx="1960.2" cy="728.7" r="7.4" fill="#3e3ea6"/><circle cx="2032.2" cy="749.3" r="7.4" fill="#3e3ea6"/></svg>
<span class="t" style="left:1565.60px;top:908.00px;font-size:17.5px;color:#a6a6aa;transform:scaleX(0.9487);">Jan</span>
<span class="t" style="left:1635.70px;top:908.00px;font-size:17.5px;color:#a6a6aa;transform:scaleX(0.9892);">Feb</span>
<span class="t" style="left:1714.80px;top:908.00px;font-size:17.5px;color:#a6a6aa;transform:scaleX(1.0888);">Mar</span>
<span class="t" style="left:1791.20px;top:908.00px;font-size:17.5px;color:#a6a6aa;transform:scaleX(1.1046);">Apr</span>
<span class="t" style="left:1867.30px;top:908.00px;font-size:17.5px;color:#a6a6aa;transform:scaleX(1.0667);">May</span>
<span class="t" style="left:1946.90px;top:908.00px;font-size:17.5px;color:#a6a6aa;transform:scaleX(0.8885);">Jun</span>
<span class="t" style="left:2019.40px;top:908.00px;font-size:17.5px;color:#a6a6aa;transform:scaleX(0.8760);">Jul</span>
<span class="t" style="left:2091.60px;top:908.00px;font-size:17.5px;color:#a6a6aa;">Aug</span>
<div class="card" style="left:1522.5px;top:1012px;width:677.5px;height:375.5999999999999px"></div>
<div class="b" style="left:1560px;top:1042.2px;width:49.8px;height:51.7px;border-radius:10px;background:#e0b85f"></div>
<svg class="b" style="left:1560px;top:1042.2px" width="50" height="52" viewBox="0 0 50 52"><g transform="translate(24.3 26.4) rotate(40) scale(0.96)" fill="none" stroke="#fff" stroke-width="1.8" stroke-linecap="round" stroke-linejoin="round"><path d="M-5.6 -16.2 H5.6"/><path d="M0 -16.2 V-9.2"/><path d="M-7.4 -9.2 H7.4"/><path d="M-4.5 -9.2 V3.6 C-4.5 9.6 4.5 9.6 4.5 3.6 V-9.2"/><path d="M4.5 -5.2 H2.2 M4.5 -1.8 H2.2 M4.5 1.6 H2.2"/><path d="M0 8.2 V17.6"/><path d="M-2.6 3.4 C-2.2 6.4 1.4 6.6 2 4.2 C0.6 4.8 -1.2 4.4 -2.6 3.4Z" fill="#fff" stroke-width="0.6"/></g></svg>
<span class="t" style="left:1624.40px;top:1046.00px;font-size:24.5px;color:#4b4b55;font-weight:700;transform:scaleX(0.9490);">Vaccine</span>
<span class="t" style="left:1625.00px;top:1079.00px;font-size:15.5px;color:#3f3d9e;transform:scaleX(0.9202);">See All</span>
<svg class="b" style="left:1678px;top:1079.1px" width="10.8" height="14.9" viewBox="-2 -2 10.8 14.9"><path d="M0.6 0.4 L6.0 5.45 L0.6 10.5" fill="none" stroke="#3f3d9e" stroke-width="2.4"/></svg>
<span class="t" style="left:1561.10px;top:1121.00px;font-size:15px;color:#a3a3a8;transform:scaleX(1.0182);">Date</span>
<span class="t" style="left:1721.00px;top:1121.00px;font-size:15px;color:#a3a3a8;transform:scaleX(0.9908);">Type</span>
<span class="t" style="left:1561.10px;top:1163.00px;font-size:18px;color:#726e9e;transform:scaleX(1.0895);">07/09/21</span>
<span class="t" style="left:1721.00px;top:1165.00px;font-size:17.5px;color:#2b2d42;transform:scaleX(0.9949);">COVID-19 CORONAVAC-SINOVAC</span>
<div class="b" style="left:1560px;top:1196.3500000000001px;width:640px;height:1.7px;background:repeating-linear-gradient(90deg,#dbdbe5 0,#dbdbe5 1.5px,transparent 1.5px,transparent 3px)"></div>
<span class="t" style="left:1561.10px;top:1216.00px;font-size:18px;color:#726e9e;transform:scaleX(1.0895);">06/01/21</span>
<span class="t" style="left:1721.00px;top:1218.00px;font-size:17.5px;color:#2b2d42;transform:scaleX(0.9949);">COVID-19 CORONAVAC-SINOVAC</span>
<div class="b" style="left:1560px;top:1246.0500000000002px;width:640px;height:1.7px;background:repeating-linear-gradient(90deg,#dbdbe5 0,#dbdbe5 1.5px,transparent 1.5px,transparent 3px)"></div>
<span class="t" style="left:1561.10px;top:1266.00px;font-size:18px;color:#726e9e;transform:scaleX(1.1009);">22/04/20</span>
<span class="t" style="left:1721.00px;top:1268.00px;font-size:17.5px;color:#2b2d42;transform:scaleX(0.9617);">TETANUS</span>
</div></div>
</body></html>
